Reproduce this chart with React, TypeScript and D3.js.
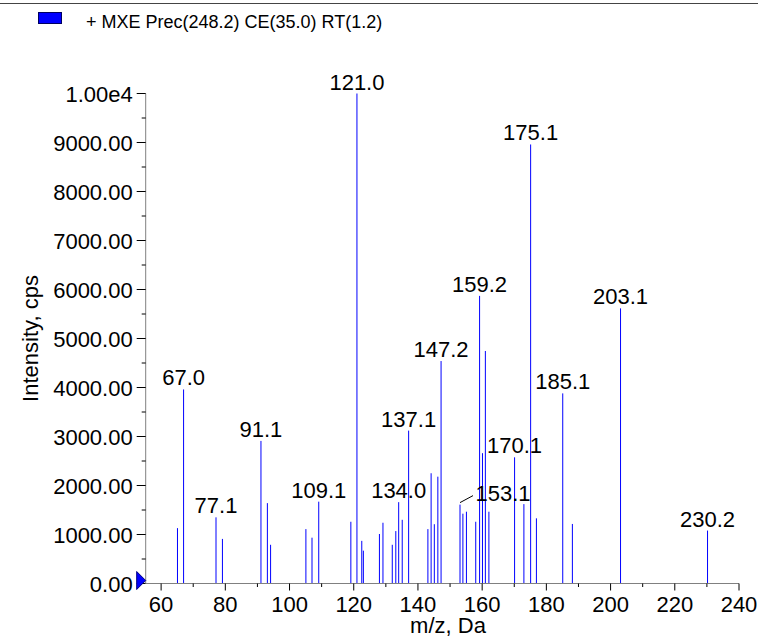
import React, { useEffect } from "react";
import * as d3 from "d3";

// peak list
const peakMz = [65.1, 67.0, 77.1, 79.1, 91.1, 93.1, 94.1, 105.1, 107.0, 109.1,
  119.1, 121.0, 122.5, 123.0, 128.0, 129.1, 132.0, 133.1, 134.0, 135.1, 137.1,
  143.1, 144.1, 145.1, 146.2, 147.2, 153.1, 154.0, 155.1, 158.0, 159.2, 160.1,
  161.0, 162.1, 170.1, 173.0, 175.1, 176.9, 185.1, 188.1, 203.1, 230.2];
const peakIntensity = [1130, 3960, 1350, 910, 2910, 1640, 790, 1110, 935, 1670,
  1260, 10000, 870, 670, 1010, 1240, 790, 1070, 1660, 1300, 3120,
  1110, 2250, 1210, 2180, 4540, 1610, 1425, 1465, 1260, 5870, 2660,
  4745, 1465, 2575, 1620, 8960, 1330, 3880, 1215, 5615, 1080];
const labelledMz = [67.0, 77.1, 91.1, 109.1, 121.0, 134.0, 137.1, 147.2, 153.1,
  159.2, 170.1, 175.1, 185.1, 203.1, 230.2];

const xTicks = [60, 80, 100, 120, 140, 160, 180, 200, 220, 240];
const yTicks = [0, 1000, 2000, 3000, 4000, 5000, 6000, 7000, 8000, 9000, 10000];
const title = "+ MXE Prec(248.2) CE(35.0) RT(1.2)";

const W = 758;
const H = 641;
const FONT = "'Liberation Sans', Arial, sans-serif";

const x = d3.scaleLinear().domain([55.2, 240]).range([145.7, 739]);
const y = d3.scaleLinear().domain([0, 10000]).range([583.5, 93.5]);

const fmtY = (v: number) => (v >= 10000 ? "1.00e4" : d3.format(".2f")(v));

export default function App() {
  useEffect(() => {
    document.body.style.margin = "0";
    document.body.style.overflow = "hidden";
  }, []);

  const minorX = d3.range(60, 241, 10).filter((v) => v % 20 !== 0);
  const minorY = d3.range(500, 10000, 1000);
  const x0 = x.range()[0];
  const y0 = y(0);

  return (
    <svg width={W} height={H} style={{ display: "block" }} fontFamily={FONT}>
      <rect width={W} height={H} fill="#fff" />
      {/* header */}
      <line x1={0} x2={W} y1={3.5} y2={3.5} stroke="#444" strokeWidth={1} />
      <rect x={38.5} y={12.5} width={23} height={11} fill="#0000ff" stroke="#000060" />
      <text x={86} y={28} fontSize={18} fill="#000">{title}</text>

      {/* peaks */}
      {peakMz.map((m, i) => (
        <line key={i} x1={x(m)} x2={x(m)} y1={y0} y2={y(peakIntensity[i])}
          stroke="#0000ff" strokeWidth={1} />
      ))}

      {/* peak labels */}
      {labelledMz.map((m) => {
        const v = peakIntensity[peakMz.indexOf(m)];
        const px = x(m);
        const py = y(v);
        if (m === 153.1) {
          return (
            <g key={m}>
              <line x1={px} y1={py - 2} x2={px + 13} y2={py - 9} stroke="#000" strokeWidth={1} />
              <text x={px + 43} y={py - 4} fontSize={22} textAnchor="middle">{m.toFixed(1)}</text>
            </g>
          );
        }
        return (
          <text key={m} x={px} y={py - 4} fontSize={22} textAnchor="middle">{m.toFixed(1)}</text>
        );
      })}

      {/* y axis */}
      <line x1={x0} x2={x0} y1={y(10000)} y2={y0} stroke="#808080" />
      {yTicks.map((t) => (
        <g key={t}>
          <line x1={x0 - 9} x2={x0} y1={y(t)} y2={y(t)} stroke="#000" />
          <text x={x0 - 13} y={y(t) + 8} fontSize={22} textAnchor="end">{fmtY(t)}</text>
        </g>
      ))}
      {minorY.map((t) => (
        <line key={t} x1={x0 - 4} x2={x0} y1={y(t)} y2={y(t)} stroke="#000" />
      ))}

      {/* x axis */}
      <line x1={x0} x2={x.range()[1]} y1={y0} y2={y0} stroke="#808080" />
      {xTicks.map((t) => (
        <g key={t}>
          <line x1={x(t)} x2={x(t)} y1={y0} y2={y0 + 7} stroke="#000" />
          <text x={x(t)} y={y0 + 28} fontSize={22} textAnchor="middle">{t}</text>
        </g>
      ))}
      {minorX.map((t) => (
        <line key={t} x1={x(t)} x2={x(t)} y1={y0} y2={y0 + 3.5} stroke="#000" />
      ))}

      {/* origin marker */}
      <path d={`M${x0 - 9},${y0 - 12} L${x0},${y0 - 3} L${x0 - 9},${y0 + 6} Z`}
        fill="#0000ff" stroke="#000080" strokeWidth={1} />

      {/* axis titles */}
      <text x={448} y={633} fontSize={22} textAnchor="middle">m/z, Da</text>
      <text transform={`translate(38,${(y(0) + y(10000)) / 2}) rotate(-90)`} fontSize={22}
        textAnchor="middle">Intensity, cps</text>
    </svg>
  );
}
